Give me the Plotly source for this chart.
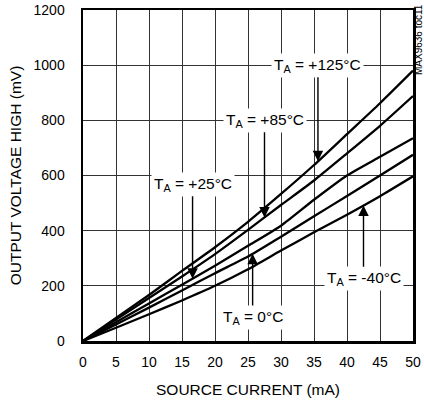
import numpy as np
import plotly.graph_objects as go

# ---- data ----
current_ma = [0, 5, 10, 15, 20, 25, 30, 35, 40, 45, 50]
vout_125 = [0, 84, 167, 254, 340, 432, 533, 638, 750, 862, 980]
vout_85 = [0, 78, 156, 234, 315, 403, 493, 582, 680, 780, 888]
vout_25 = [0, 68, 136, 204, 273, 345, 418, 512, 600, 668, 735]
vout_0 = [0, 60, 121, 183, 246, 306, 378, 452, 526, 600, 675]
vout_m40 = [0, 48, 97, 147, 200, 260, 328, 394, 458, 525, 597]

x_ticks = [0, 5, 10, 15, 20, 25, 30, 35, 40, 45, 50]
y_ticks = [0, 200, 400, 600, 800, 1000, 1200]

series = [
    ("+125°C", vout_125),
    ("+85°C", vout_85),
    ("+25°C", vout_25),
    ("0°C", vout_0),
    ("-40°C", vout_m40),
]

# label placement: (series name, arrow x in mA, label x, label y in mV)
labels = [
    ("+125°C", 35.6, 35.6, 1000),
    ("+85°C", 27.5, 27.5, 800),
    ("+25°C", 16.6, 16.6, 568),
    ("0°C", 25.7, 25.7, 85),
    ("-40°C", 42.5, 42.5, 226),
]

FONT = "Liberation Sans, Arial, Helvetica, sans-serif"

fig = go.Figure()
for name, vals in series:
    fig.add_trace(go.Scatter(
        x=current_ma, y=vals, mode="lines", name=name,
        line=dict(color="black", width=2.3, shape="spline", smoothing=0.6),
        hoverinfo="skip",
    ))

lookup = dict(series)
for name, xa, xl, yl in labels:
    tip_y = float(np.interp(xa, current_ma, lookup[name]))
    fig.add_annotation(
        x=xa, y=tip_y, xref="x", yref="y",
        ax=xl, ay=yl, axref="x", ayref="y",
        text="T<sub>A</sub> = " + name,
        showarrow=True, arrowhead=2, arrowsize=1.5, arrowwidth=1.4,
        arrowcolor="black", standoff=0,
        bgcolor="white", borderpad=2,
        font=dict(family=FONT, size=15.5, color="black"),
    )

fig.add_annotation(
    x=1.0, y=1.0, xref="paper", yref="paper",
    xanchor="center", yanchor="middle",
    xshift=5, yshift=-30,
    text="MAX9636 toc11", textangle=-90, showarrow=False,
    font=dict(family=FONT, size=10, color="black"),
)

fig.update_layout(
    width=424, height=405,
    margin=dict(l=83, r=11, t=10, b=64),
    plot_bgcolor="white", paper_bgcolor="white",
    showlegend=False,
    font=dict(family=FONT, size=14, color="black"),
)
fig.update_xaxes(
    range=[0, 50], tickvals=x_ticks, ticktext=[str(v) for v in x_ticks],
    showgrid=True, gridcolor="#333", gridwidth=1,
    showline=True, linecolor="black", linewidth=2.5, mirror=True,
    ticks="", zeroline=False, ticklabelstandoff=7, automargin=False,
    tickfont=dict(family=FONT, size=14),
    title=dict(text="SOURCE CURRENT (mA)", standoff=15,
               font=dict(family=FONT, size=15.5)),
)
fig.update_yaxes(
    range=[0, 1200], tickvals=y_ticks, ticktext=[str(v) for v in y_ticks],
    showgrid=True, gridcolor="#333", gridwidth=1,
    showline=True, linecolor="black", linewidth=2.5, mirror=True,
    ticks="", zeroline=False, ticklabelstandoff=13, automargin=False,
    tickfont=dict(family=FONT, size=14),
    title=dict(text="OUTPUT VOLTAGE HIGH (mV)", standoff=8,
               font=dict(family=FONT, size=15.5)),
)

fig.write_html(
    "out.html",
    config={"displayModeBar": False, "staticPlot": True},
    post_script="document.body.style.margin='0';document.body.style.padding='0';",
)
